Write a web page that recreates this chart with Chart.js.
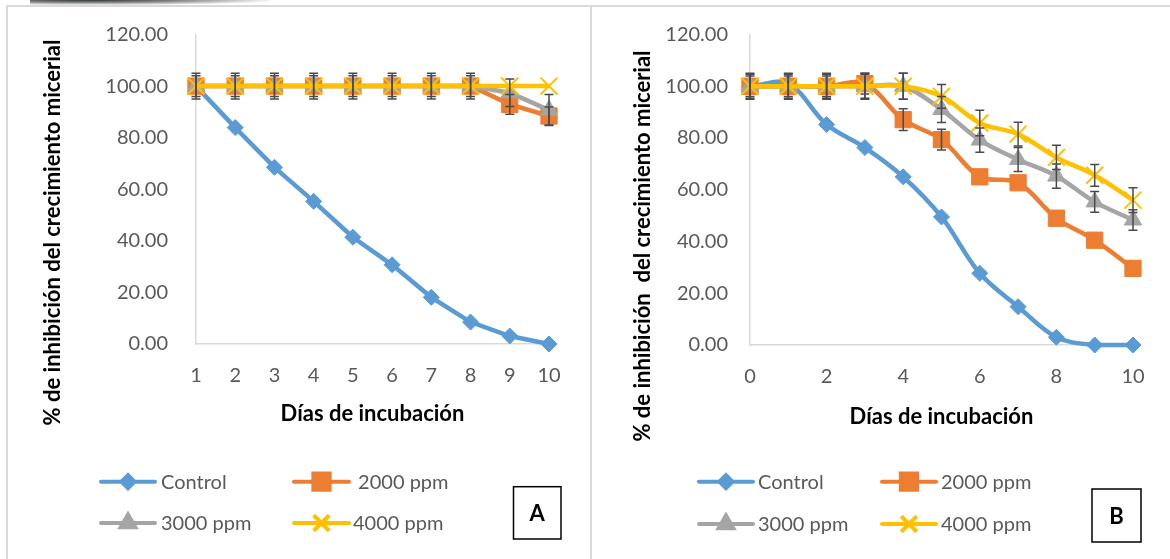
<!DOCTYPE html>
<html><head><meta charset="utf-8">
<script src="https://cdn.jsdelivr.net/npm/chart.js@4.4.1/dist/chart.umd.min.js"></script>
<style>
html,body{margin:0;padding:0;background:#fff;width:1170px;height:559px;overflow:hidden;position:relative}
canvas{position:absolute;top:0}
#cA{left:0}
#cB{left:591px}
.ln{position:absolute;background:#d9d9d9}
#blob{position:absolute;left:30px;top:0;width:240px;height:5px;background:radial-gradient(ellipse at 25% 0%, #2f3a33 0%, #777 30%, rgba(255,255,255,0) 75%)}
</style></head><body>
<div id="blob"></div>
<div class="ln" style="left:6px;top:5px;width:1164px;height:1.5px"></div>
<div class="ln" style="left:6px;top:5px;width:1.5px;height:554px"></div>
<div class="ln" style="left:589.5px;top:5px;width:2.5px;height:554px"></div>
<canvas id="cA" width="589" height="559"></canvas>
<canvas id="cB" width="579" height="559"></canvas>
<script>
// ---------- DATA ----------
const seriesNames = ['Control', '2000 ppm', '3000 ppm', '4000 ppm'];
const yTicks = [0, 20, 40, 60, 80, 100, 120];

// Panel A
const daysA = ['1','2','3','4','5','6','7','8','9','10'];
const controlA = [100, 83.9, 68.5, 55.3, 41.4, 30.7, 18.1, 8.5, 3.1, 0];
const ppm2000A = [100, 100, 100, 100, 100, 100, 100, 100, 92.9, 88.4];
const ppm3000A = [100, 100, 100, 100, 100, 100, 100, 100, 97.4, 90.7];
const ppm4000A = [100, 100, 100, 100, 100, 100, 100, 100, 100, 100];
const err2000A = [4, 4, 4, 4, 4, 4, 4, 4, 3.8, 3.5];
const err3000A = [5, 5, 5, 5, 5, 5, 5, 5, 5.3, 6];

// Panel B
const daysB = [0, 1, 2, 3, 4, 5, 6, 7, 8, 9, 10];
const xTicksB = [0, 2, 4, 6, 8, 10];
const controlB = [100, 101, 85.2, 76.3, 65, 49.5, 27.7, 14.8, 3, 0, 0];
const ppm2000B = [100, 100, 100, 101, 87.1, 79.4, 65, 62.7, 49, 40.5, 29.6];
const ppm3000B = [100, 100, 100, 100, 100, 91, 79.2, 71.7, 65.3, 55.3, 48.3];
const ppm4000B = [100, 100, 100, 100, 100, 96.1, 85.8, 81.5, 72.5, 65.6, 56];
const err2000B = [4, 4, 4, 4, 4.2, 4, 0, 0, 0, 0, 0];
const err3000B = [5, 5, 5, 5, 5, 5, 4.7, 4.6, 4.7, 4, 4];
const err4000B = [4.6, 4.6, 4.6, 4.6, 5, 4.6, 4.9, 4.6, 4.7, 4.2, 4.8];

// ---------- STYLE ----------
const COL = ['#5B9BD5', '#ED7D31', '#A5A5A5', '#FFC000'];
const STYLE = [
  {pointStyle:'rectRot', pointRadius:8, pointBorderWidth:1},
  {pointStyle:'rect', pointRadius:11.5, pointBorderWidth:1},
  {pointStyle:'triangle', pointRadius:10, pointBorderWidth:1},
  {pointStyle:'crossRot', pointRadius:12, pointBorderWidth:2}
];
const LEG_STYLE = [
  {pointStyle:'rectRot', radius:6.5, borderWidth:1},
  {pointStyle:'rect', radius:11.5, borderWidth:1},
  {pointStyle:'triangle', radius:8.5, borderWidth:1},
  {pointStyle:'crossRot', radius:11, borderWidth:2}
];
Chart.defaults.font.family = 'Lato';
Chart.defaults.color = '#595959';

const panelPlugin = {
  id: 'panel',
  afterDatasetsDraw(chart) {
    const ctx = chart.ctx, yS = chart.scales.y;
    ctx.save();
    ctx.strokeStyle = '#4a4a4a';
    ctx.lineWidth = 1.5;
    chart.data.datasets.forEach((ds, i) => {
      if (!ds.errors) return;
      const meta = chart.getDatasetMeta(i);
      meta.data.forEach((pt, j) => {
        const v = ds.rawY[j], e = ds.errors[j];
        if (!(e > 0)) return;
        const t = yS.getPixelForValue(v + e), b = yS.getPixelForValue(v - e);
        const x = pt.x;
        ctx.beginPath();
        ctx.moveTo(x, t); ctx.lineTo(x, b);
        ctx.moveTo(x - 4.5, t); ctx.lineTo(x + 4.5, t);
        ctx.moveTo(x - 4.5, b); ctx.lineTo(x + 4.5, b);
        ctx.stroke();
      });
    });
    ctx.restore();
  },
  afterDraw(chart, args, o) {
    const ctx = chart.ctx;
    ctx.save();
    ctx.translate(o.yTitle.x, o.yTitle.y);
    ctx.rotate(-Math.PI / 2);
    ctx.font = 'bold 22px Lato';
    ctx.fillStyle = '#000';
    ctx.textAlign = 'center';
    ctx.textBaseline = 'middle';
    ctx.fillText(o.yTitle.text, 0, 0);
    ctx.restore();
    ctx.save();
    o.legend.forEach(it => {
      const c = COL[it.i];
      ctx.strokeStyle = c; ctx.fillStyle = c;
      ctx.lineWidth = 4; ctx.lineCap = 'round';
      ctx.beginPath(); ctx.moveTo(it.x1, it.y); ctx.lineTo(it.x2, it.y); ctx.stroke();
      ctx.lineCap = 'butt';
      Chart.helpers.drawPoint(ctx, Object.assign({rotation:0}, LEG_STYLE[it.i]), (it.x1 + it.x2) / 2, it.y);
      ctx.fillStyle = '#595959';
      ctx.font = '20px Lato';
      ctx.textAlign = 'left';
      ctx.textBaseline = 'middle';
      ctx.fillText(it.text, it.tx, it.y + 1);
    });
    const bx = o.box;
    ctx.strokeStyle = '#000'; ctx.lineWidth = 1.5;
    ctx.strokeRect(bx.x, bx.y, bx.w, bx.h);
    ctx.fillStyle = '#000';
    ctx.font = 'bold 22px Lato';
    ctx.textAlign = 'center';
    ctx.textBaseline = 'middle';
    ctx.fillText(bx.text, bx.x + bx.w / 2, bx.y + bx.h / 2 + 1);
    ctx.restore();
  }
};

function makeDatasets(xs, ys, errs, tension, linear) {
  return ys.map((arr, i) => Object.assign({
    label: seriesNames[i],
    data: linear ? xs.map((x, j) => ({x: x, y: arr[j]})) : arr,
    rawY: arr,
    errors: errs[i],
    borderColor: COL[i],
    backgroundColor: COL[i],
    pointBackgroundColor: COL[i],
    pointBorderColor: COL[i],
    borderWidth: 4.5,
    tension: tension,
    order: 4 - i,
    clip: false
  }, STYLE[i]));
}

function yScale(w, gap) {
  return {
    min: 0, max: 120,
    afterBuildTicks: s => { s.ticks = yTicks.map(v => ({value: v})); },
    afterFit: s => { s.width = w; },
    grid: {display: false, drawTicks: true, tickLength: gap},
    border: {display: true, color: '#d9d9d9', width: 1.5},
    ticks: {padding: 0, font: {size: 20}, color: '#595959', callback: v => Number(v).toFixed(2)}
  };
}
function xTitle() {
  return {display: true, text: 'Días de incubación', color: '#000', font: {size: 22, weight: 'bold'}, padding: {top: 0, bottom: 0}};
}

// Panel A
new Chart(document.getElementById('cA'), {
  type: 'line',
  data: {labels: daysA, datasets: makeDatasets(daysA, [controlA, ppm2000A, ppm3000A, ppm4000A], [null, err2000A, err3000A, null], 0, false)},
  options: {
    responsive: false, animation: false, events: [],
    layout: {padding: {left: 0, right: 40, top: 34.5, bottom: 131.6}},
    plugins: {
      legend: {display: false}, tooltip: {enabled: false},
      panel: {
        yTitle: {x: 52.7, y: 232.5, text: '% de inhibición del crecimiento micerial'},
        legend: [
          {i:0, x1:101, x2:155, y:481.7, tx:161, text:'Control'},
          {i:1, x1:294, x2:349, y:481.7, tx:353, text:' 2000 ppm'},
          {i:2, x1:101, x2:155, y:523, tx:161, text:'3000 ppm'},
          {i:3, x1:294, x2:349, y:523, tx:353, text:'4000 ppm'}
        ],
        box: {x:513.5, y:486.7, w:47.5, h:52.3, text:'A'}
      }
    },
    scales: {
      x: {
        type: 'category', offset: false,
        afterFit: s => { s.height = 83.4; },
        grid: {display: false, drawTicks: true, tickLength: 20},
        border: {display: true, color: '#d9d9d9', width: 1.5},
        ticks: {padding: 0, font: {size: 20}, color: '#595959', maxRotation: 0, autoSkip: false},
        title: xTitle()
      },
      y: yScale(196, 28)
    }
  },
  plugins: [panelPlugin]
});

// Panel B
new Chart(document.getElementById('cB'), {
  type: 'line',
  data: {datasets: makeDatasets(daysB, [controlB, ppm2000B, ppm3000B, ppm4000B], [null, err2000B, err3000B, err4000B], 0.35, true)},
  options: {
    responsive: false, animation: false, events: [],
    layout: {padding: {left: 0, right: 37, top: 34.5, bottom: 128.6}},
    plugins: {
      legend: {display: false}, tooltip: {enabled: false},
      panel: {
        yTitle: {x: 52, y: 246, text: '% de inhibición  del crecimiento micerial'},
        legend: [
          {i:0, x1:108, x2:162, y:481.7, tx:167, text:'Control'},
          {i:1, x1:291, x2:345, y:481.7, tx:350, text:'2000 ppm'},
          {i:2, x1:108, x2:162, y:524, tx:167, text:'3000 ppm'},
          {i:3, x1:291, x2:345, y:524, tx:350, text:'4000 ppm'}
        ],
        box: {x:501, y:489, w:49, h:53, text:'B'}
      }
    },
    scales: {
      x: {
        type: 'linear', min: 0, max: 10,
        afterBuildTicks: s => { s.ticks = xTicksB.map(v => ({value: v})); },
        afterFit: s => { s.height = 85.4; },
        grid: {display: false, drawTicks: true, tickLength: 20},
        border: {display: true, color: '#d9d9d9', width: 1.5},
        ticks: {padding: 0, font: {size: 20}, color: '#595959', maxRotation: 0, callback: v => String(v)},
        title: xTitle()
      },
      y: yScale(159, 22)
    }
  },
  plugins: [panelPlugin]
});
</script>
</body></html>
